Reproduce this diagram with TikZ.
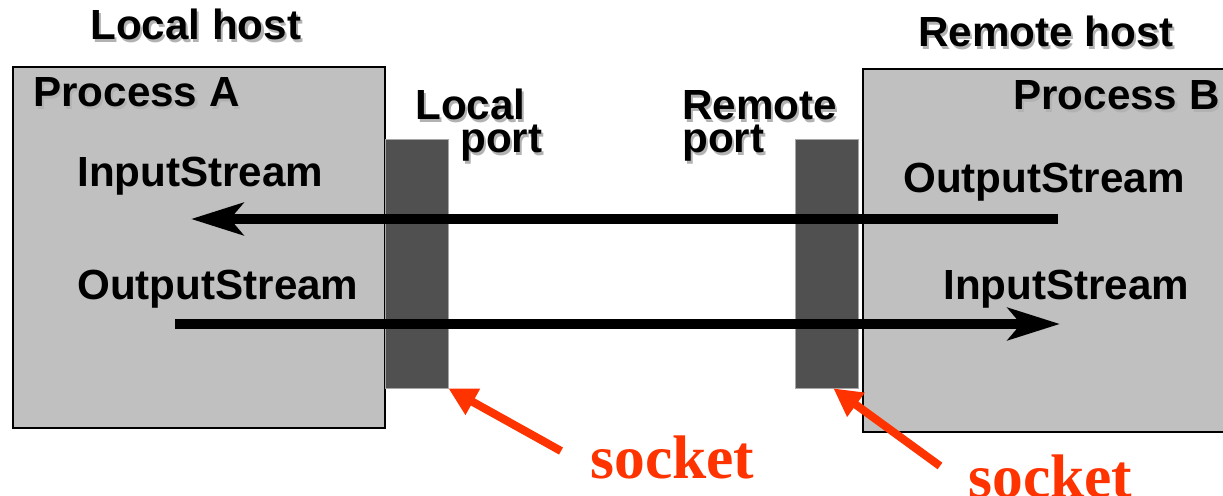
\documentclass[tikz,border=0pt]{standalone}
\usepackage{fontspec}
\setmainfont{Liberation Sans}
\newfontfamily\sockfont{Liberation Serif}
\usetikzlibrary{arrows.meta}

\definecolor{procgray}{RGB}{192,192,192}
\definecolor{portgray}{RGB}{80,80,80}
\definecolor{sockred}{RGB}{255,51,0}

% bold label with a soft grey shadow behind it
\newcommand{\shtxt}[1]{\rlap{\hspace{1.2pt}\raisebox{-1.2pt}{\textcolor{black!30}{#1}}}#1}

\tikzset{
  proc/.style={draw=black, line width=1.2pt, fill=procgray, inner sep=0pt, anchor=north west},
  portbar/.style={draw=gray!70, line width=0.4pt, fill=portgray, inner sep=0pt,
    minimum width=1.26cm, minimum height=4.98cm},
  lbl/.style={inner sep=0pt, anchor=base west, font=\fontsize{24}{26}\selectfont\bfseries},
  socklbl/.style={inner sep=0pt, anchor=base west, text=sockred,
    font=\sockfont\fontsize{35}{38}\selectfont\bfseries},
  stream/.style={line width=5.7pt, -{Stealth[length=1.04cm,width=0.64cm,inset=0.26cm]}},
  sockarrow/.style={sockred, line width=4.6pt, -{Triangle[length=0.56cm,width=0.56cm]}}
}

\begin{document}
\begin{tikzpicture}[x=0.02cm, y=-0.02cm]
    \useasboundingbox (0,0) rectangle (1223,496);

    % the two processes
    \node[proc, minimum width=7.44cm, minimum height=7.22cm] (procA) at (12,66) {};
    \node[proc, minimum width=7.6cm, minimum height=7.26cm] (procB) at (862,68) {};

    % ports
    \node[portbar] (lport) at (416.5,263.5) {};
    \node[portbar] (rport) at (826.5,263.5) {};

    \node[lbl] (lhost) at (90,40) {\shtxt{Local host}};
    \node[lbl] (rhost) at (918,47) {\shtxt{Remote host}};
    \node[lbl] (pA) at (33,107) {\shtxt{Process A}};
    \node[lbl] (pB) at (1013,110) {\shtxt{Process B}};
    \node[lbl] (inA) at (77,187) {InputStream};
    \node[lbl] (outA) at (77,300) {OutputStream};
    \node[lbl] (outB) at (903,193) {OutputStream};
    \node[lbl] (inB) at (943,300) {InputStream};
    \node[lbl] (lport1) at (415,120) {\shtxt{Local}};
    \node[lbl] (lport2) at (460,153) {\shtxt{port}};
    \node[lbl] (rport1) at (682,120) {\shtxt{Remote}};
    \node[lbl] (rport2) at (682,153) {\shtxt{port}};

    % data flow between the hosts
    \coordinate (fromB) at (1058,219);
    \coordinate (toA) at (191,219);
    \coordinate (fromA) at (175,324);
    \coordinate (toB) at (1060,324);
    \draw[stream] (fromB) -- (toA);
    \draw[stream] (fromA) -- (toB);

    % socket callouts
    \node[socklbl] (sock1) at (590,478) {socket};
    \node[socklbl] (sock2) at (968,497) {socket};
    \coordinate (s1) at (561,451);
    \coordinate (s2) at (940,466);
    \draw[sockarrow] (s1) -- (lport.south east);
    \draw[sockarrow] (s2) -- ([xshift=-0.5cm]rport.south east);
\end{tikzpicture}
\end{document}
